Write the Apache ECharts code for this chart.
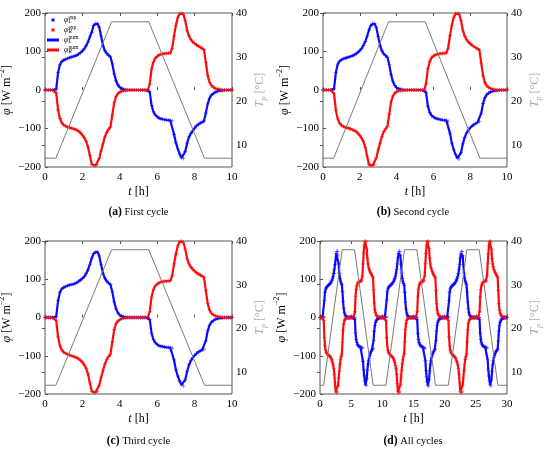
<!DOCTYPE html>
<html><head><meta charset="utf-8">
<script src="https://cdn.jsdelivr.net/npm/echarts@6/dist/echarts.min.js"></script>
<style>html,body{margin:0;padding:0;background:#fff}#c{width:550px;height:450px}</style>
</head><body><div id="c"></div>
<script>
// sampling step of the values [h]
const tStep = 0.1;
// cycle 1 (t = 0 ... 10 h)
const phiL1 = [0,0,0,0,0,0,2,45,66,74, 78,80,82,84,85,87,88,90,93,97, 101,107,115,125,138,150,168,173,173,163,
  140,116,102,95,90,86,68,42,24,13, 7,4,2,1,0,0,0,0,0,0, 0,0,0,0,0,0,-5,-40,-57,-65,
  -70,-73,-75,-76,-77,-78,-78,-79,-80,-115, -137,-153,-166,-176,-178,-160,-138,-122,-113,-106,
  -99,-93,-89,-86,-83,-81,-60,-36,-21,-13, -9,-6,-4,-2,-1,-1,0,0,0,0, 0];
const phiR1 = [0,0,0,0,0,0,-8,-52,-74,-85, -91,-94,-96,-98,-99,-100,-102,-104,-107,-111, -117,-124,-133,-148,-170,-193,-196,-196,-194,-178,
  -158,-140,-122,-110,-102,-96,-65,-33,-17,-9, -5,-3,-2,-1,0,0,0,0,0,0, 0,0,0,0,0,0,15,55,73,83,
  88,91,93,94,95,95,96,96,108,140, 168,188,198,200,197,180,155,140,131,125,
  121,117,114,111,108,105,72,38,20,12, 7,4,3,2,1,0,0,0,0,0, 0];
// cycle 2
const phiL2 = [0,0,0,0,0,0,3,46,67,75, 79,81,83,84,86,87,89,91,94,98, 102,108,116,126,140,156,168,173,173,162,
  139,116,102,94,89,85,66,40,22,12, 6,3,2,1,0,0,0,0,0,0, 0,0,0,0,0,0,-6,-42,-58,-66,
  -71,-73,-75,-76,-77,-78,-79,-79,-81,-112, -138,-154,-167,-177,-179,-163,-140,-123,-112,-104,
  -98,-93,-90,-87,-84,-82,-60,-35,-20,-12, -8,-5,-3,-2,-1,-1,0,0,0,0, 0];
const phiR2 = [0,0,0,0,0,0,-9,-53,-75,-86, -92,-95,-97,-98,-99,-101,-103,-105,-108,-112, -118,-125,-134,-149,-172,-194,-196,-196,-193,-176,
  -156,-138,-121,-109,-101,-95,-63,-31,-16,-8, -4,-2,-1,-1,0,0,0,0,0,0, 0,0,0,0,0,0,16,56,74,84,
  89,91,93,94,94,95,95,96,109,141, 168,188,198,200,197,180,155,140,131,125,
  120,116,113,110,107,104,70,37,19,11, 6,4,2,1,1,0,0,0,0,0, 0];
// cycle 3
const phiL3 = [0,0,0,0,0,0,2,44,66,75, 79,81,83,85,86,87,89,91,94,98, 102,107,115,125,139,155,167,172,172,161,
  138,116,103,95,90,86,67,41,23,12, 6,4,2,1,0,0,0,0,0,0, 0,0,0,0,0,0,-5,-41,-58,-66,
  -71,-74,-75,-76,-77,-78,-78,-79,-80,-111, -137,-153,-166,-176,-179,-163,-141,-124,-113,-105,
  -99,-94,-90,-87,-85,-83,-61,-35,-20,-12, -8,-5,-3,-2,-1,-1,0,0,0,0, 0];
const phiR3 = [0,0,0,0,0,0,-8,-51,-74,-85, -91,-94,-96,-98,-100,-101,-103,-105,-108,-112, -117,-124,-133,-148,-171,-193,-196,-196,-194,-177,
  -157,-139,-122,-110,-102,-96,-64,-32,-16,-9, -5,-3,-2,-1,0,0,0,0,0,0, 0,0,0,0,0,0,15,54,73,83,
  88,91,93,94,95,95,96,96,109,140, 166,187,198,200,196,179,154,140,132,126,
  121,117,114,111,108,105,71,37,19,11, 7,4,3,2,1,0,0,0,0,0, 0];
// plate temperature schedule of one cycle
const tempTimes = [0, 0.58, 3.56, 5.55, 8.53, 10];
const tempValues = [7, 7, 38, 38, 7, 7];
const cycleLength = 10;
const phiTicks = [-200, -100, 0, 100, 200];
const tempTicks = [10, 20, 30, 40];
const captionTags = ['(a)', '(b)', '(c)', '(d)'];
const captionTexts = ['First cycle', 'Second cycle', 'Third cycle', 'All cycles'];

const cyclesL = [phiL1, phiL2, phiL3];
const cyclesR = [phiR1, phiR2, phiR3];

function toPairs(arr, offset, skipFirst) {
  const out = [];
  arr.forEach((v, i) => { if (!(skipFirst && i === 0)) out.push([+(offset + i * tStep).toFixed(2), v]); });
  return out;
}
function buildPhi(cycles, idxs) {
  let out = [];
  idxs.forEach((c, k) => { out = out.concat(toPairs(cycles[c], k * cycleLength, k > 0)); });
  return out;
}
function buildTemp(n) {
  let out = [];
  for (let k = 0; k < n; k++) {
    tempTimes.forEach((t, i) => { if (!(k > 0 && i === 0)) out.push([t + k * cycleLength, tempValues[i]]); });
  }
  return out;
}

const FONT = 'Liberation Serif';
const BLUE = '#0a0aff', RED = '#ff0a0a';
const plus = 'path://M2,0h1v5h-1z M0,2h5v1h-5z';

const panels = [
  {box: {left: 45, top: 13, width: 187, height: 154}, cycles: [0], xMax: 10, xInt: 2, cap: [138.5, 212]},
  {box: {left: 323, top: 13, width: 184, height: 154}, cycles: [1], xMax: 10, xInt: 2, cap: [413, 212]},
  {box: {left: 45, top: 241, width: 187, height: 153}, cycles: [2], xMax: 10, xInt: 2, cap: [138.5, 441]},
  {box: {left: 320, top: 241, width: 187, height: 153}, cycles: [0, 1, 2], xMax: 30, xInt: 5, cap: [413, 441]}
];

const grid = [], xAxis = [], yAxis = [], series = [], graphic = [];
const labelStyle = {fontFamily: FONT, fontSize: 11, color: '#000'};
const minus = v => String(v).replace('-', '\u2212');

panels.forEach((p, i) => {
  grid.push(Object.assign({show: true, borderColor: '#555', borderWidth: 1, backgroundColor: 'transparent',
    containLabel: false, outerBoundsMode: 'none'}, p.box));
  xAxis.push({type: 'value', gridIndex: i, min: 0, max: p.xMax, interval: p.xInt, position: 'bottom',
    axisLine: {show: false}, splitLine: {show: false},
    axisTick: {inside: true, length: 3, lineStyle: {color: '#555'}},
    axisLabel: Object.assign({margin: 5, formatter: minus}, labelStyle),
    name: '{i|t} [h]', nameLocation: 'middle', nameGap: 19,
    nameTextStyle: {fontFamily: FONT, fontSize: 12, color: '#000',
      rich: {i: {fontFamily: FONT, fontSize: 12, fontStyle: 'italic', color: '#000'}}}});
  xAxis.push({type: 'value', gridIndex: i, min: 0, max: p.xMax, interval: p.xInt, position: 'top',
    axisLine: {show: false}, splitLine: {show: false}, axisLabel: {show: false},
    axisTick: {inside: true, length: 3, lineStyle: {color: '#555'}}});
  yAxis.push({type: 'value', gridIndex: i, min: -200, max: 200, interval: 100, position: 'left',
    axisLine: {show: false}, splitLine: {show: false},
    axisTick: {inside: true, length: 3, lineStyle: {color: '#555'}},
    axisLabel: Object.assign({margin: 4, formatter: minus}, labelStyle),
    name: '{i|φ} [W m{s|\u22122}]', nameLocation: 'middle', nameGap: 27, nameRotate: 90,
    nameTextStyle: {fontFamily: FONT, fontSize: 12, color: '#000', lineHeight: 16,
      rich: {i: {fontFamily: FONT, fontSize: 12, fontStyle: 'italic', color: '#000', lineHeight: 16},
             s: {fontFamily: FONT, fontSize: 8, color: '#000', lineHeight: 16, verticalAlign: 'top'}}}});
  yAxis.push({type: 'value', gridIndex: i, min: 5, max: 40, position: 'right',
    axisLine: {show: false}, splitLine: {show: false},
    axisTick: {inside: true, length: 3, lineStyle: {color: '#555'}, customValues: tempTicks},
    axisLabel: Object.assign({margin: 4, customValues: tempTicks}, labelStyle),
    name: '{i|T}{s|p} [°C]', nameLocation: 'middle', nameGap: 20, nameRotate: 90,
    nameTextStyle: {fontFamily: FONT, fontSize: 12, color: '#aaa', lineHeight: 16,
      rich: {i: {fontFamily: FONT, fontSize: 12, fontStyle: 'italic', color: '#aaa', lineHeight: 16},
             s: {fontFamily: FONT, fontSize: 8, fontStyle: 'italic', color: '#aaa', lineHeight: 16, verticalAlign: 'bottom'}}}});

  const dL = buildPhi(cyclesL, p.cycles), dR = buildPhi(cyclesR, p.cycles);
  const common = {xAxisIndex: 2 * i, yAxisIndex: 2 * i, animation: false, silent: true};
  series.push(Object.assign({type: 'scatter', name: 'Lexp', data: dL, symbol: plus, symbolSize: 4,
    itemStyle: {color: BLUE, opacity: 0.6}}, common));
  series.push(Object.assign({type: 'scatter', name: 'Rexp', data: dR, symbol: plus, symbolSize: 4,
    itemStyle: {color: RED, opacity: 0.6}}, common));
  series.push(Object.assign({type: 'line', name: 'Lnum', data: dL, showSymbol: false,
    lineStyle: {color: BLUE, width: 2.2}, itemStyle: {color: BLUE}}, common));
  series.push(Object.assign({type: 'line', name: 'Rnum', data: dR, showSymbol: false,
    lineStyle: {color: RED, width: 2.2}, itemStyle: {color: RED}}, common));
  series.push({type: 'line', name: 'Tp', xAxisIndex: 2 * i, yAxisIndex: 2 * i + 1, data: buildTemp(p.cycles.length),
    showSymbol: false, lineStyle: {color: '#7a7a7a', width: 1}, animation: false, silent: true});

  graphic.push({type: 'text', x: p.cap[0], y: p.cap[1], silent: true,
    style: {text: '{b|' + captionTags[i] + '} ' + captionTexts[i], fontFamily: FONT, fontSize: 10.5, fill: '#000',
      align: 'center', verticalAlign: 'middle',
      rich: {b: {fontFamily: FONT, fontSize: 11.5, fontWeight: 'bold', fill: '#000'}}}});
});

const legendLabels = {
  Lexp: '{v|φ}{s|L}{p|exp}', Rexp: '{v|φ}{s|R}{p|exp}',
  Lnum: '{v|φ}{s|L}{p|num}', Rnum: '{v|φ}{s|R}{p|num}'
};
const squareIcon = 'path://M0,0H1V1H0Z';
const lineIcon = 'path://M0,0H12V3H0Z';

const chart = echarts.init(document.getElementById('c'), null, {renderer: 'canvas'});
chart.setOption({
  animation: false,
  backgroundColor: '#fff',
  grid, xAxis, yAxis, series, graphic,
  legend: {
    left: 47, top: 15, orient: 'vertical', padding: 0, itemGap: 0, itemWidth: 12, itemHeight: 3,
    selectedMode: false, symbolKeepAspect: true,
    data: [{name: 'Lexp', icon: squareIcon, itemStyle: {opacity: 1}}, {name: 'Rexp', icon: squareIcon, itemStyle: {opacity: 1}},
           {name: 'Lnum', icon: lineIcon}, {name: 'Rnum', icon: lineIcon}],
    formatter: n => legendLabels[n],
    textStyle: {fontFamily: FONT, fontSize: 8, color: '#000', lineHeight: 10,
      rich: {
        v: {fontFamily: FONT, fontSize: 8, fontStyle: 'italic', lineHeight: 10},
        s: {fontFamily: FONT, fontSize: 5.5, fontStyle: 'italic', lineHeight: 10, verticalAlign: 'bottom', width: 0},
        p: {fontFamily: FONT, fontSize: 5.5, lineHeight: 10, verticalAlign: 'top'}
      }}
  }
});
</script></body></html>
